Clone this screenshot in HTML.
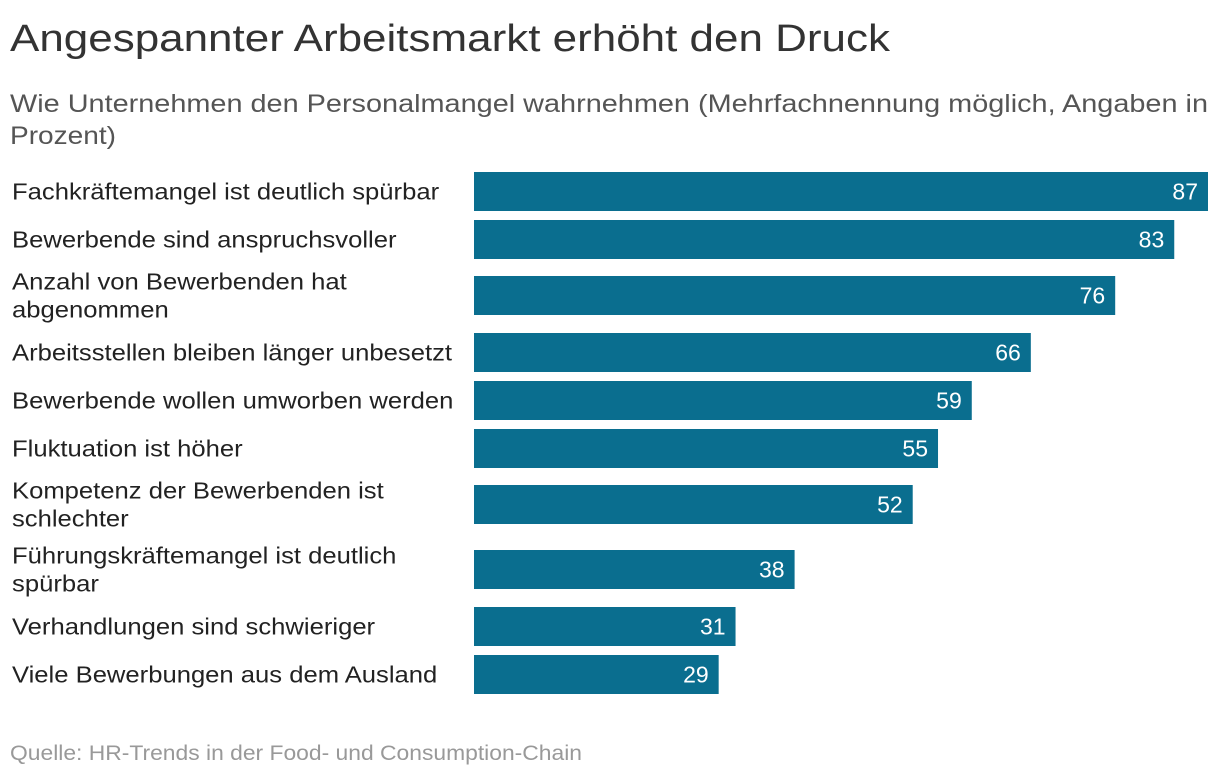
<!DOCTYPE html>
<html><head><meta charset="utf-8"><style>
body{margin:0;background:#fff;}
svg{display:block;font-family:"Liberation Sans","DejaVu Sans",sans-serif;}
</style></head><body>
<svg id="chart" width="1220" height="778">
<text x="10" y="51" font-size="38" fill="#333" textLength="880" lengthAdjust="spacingAndGlyphs">Angespannter Arbeitsmarkt erhöht den Druck</text>
<text x="10" y="112" font-size="25" fill="#555" textLength="1198" lengthAdjust="spacingAndGlyphs">Wie Unternehmen den Personalmangel wahrnehmen (Mehrfachnennung möglich, Angaben in</text>
<text x="10" y="144" font-size="25" fill="#555" textLength="106" lengthAdjust="spacingAndGlyphs">Prozent)</text>
<g id="bars"></g>
<text x="10" y="760" font-size="21" fill="#999" textLength="572" lengthAdjust="spacingAndGlyphs">Quelle: HR-Trends in der Food- und Consumption-Chain</text>
</svg>
<script>
const categories = [
 ["Fachkräftemangel ist deutlich spürbar"],
 ["Bewerbende sind anspruchsvoller"],
 ["Anzahl von Bewerbenden hat","abgenommen"],
 ["Arbeitsstellen bleiben länger unbesetzt"],
 ["Bewerbende wollen umworben werden"],
 ["Fluktuation ist höher"],
 ["Kompetenz der Bewerbenden ist","schlechter"],
 ["Führungskräftemangel ist deutlich","spürbar"],
 ["Verhandlungen sind schwieriger"],
 ["Viele Bewerbungen aus dem Ausland"]
];
const values = [87,83,76,66,59,55,52,38,31,29];
const maxValue = 87;

const NS="http://www.w3.org/2000/svg";
const g=document.getElementById('bars');
const x0=474, x1=1208, barH=39;
function xScale(v){return x0+(x1-x0)*v/maxValue;}
let y=172;
categories.forEach((lines,i)=>{
  const dbl=lines.length>1;
  if(dbl && i>0) y+=8;
  const r=document.createElementNS(NS,'rect');
  r.setAttribute('x',x0);r.setAttribute('y',y);
  r.setAttribute('width',xScale(values[i])-x0);r.setAttribute('height',barH);
  r.setAttribute('fill','#0a6e8f');
  
  
  g.appendChild(r);
  const v=document.createElementNS(NS,'text');
  v.setAttribute('x',xScale(values[i])-10);v.setAttribute('y',y+barH/2+8);
  v.setAttribute('text-anchor','end');v.setAttribute('font-size','23');v.setAttribute('fill','#fff');
  v.textContent=values[i];
  
  
  g.appendChild(v);
  const cy=y+barH/2;
  lines.forEach((ln,k)=>{
    const t=document.createElementNS(NS,'text');
    const ty=dbl?(cy-14+k*28+8):(cy+8);
    t.setAttribute('x',12);t.setAttribute('y',ty);
    t.setAttribute('font-size','23.5');t.setAttribute('fill','#222');
    t.textContent=ln;
    
    
    g.appendChild(t);
    const w=t.getComputedTextLength();
    t.setAttribute('textLength',(w*1.09).toFixed(1));
    t.setAttribute('lengthAdjust','spacingAndGlyphs');
  });
  y+= dbl?57:48;
});
</script>
</body></html>
